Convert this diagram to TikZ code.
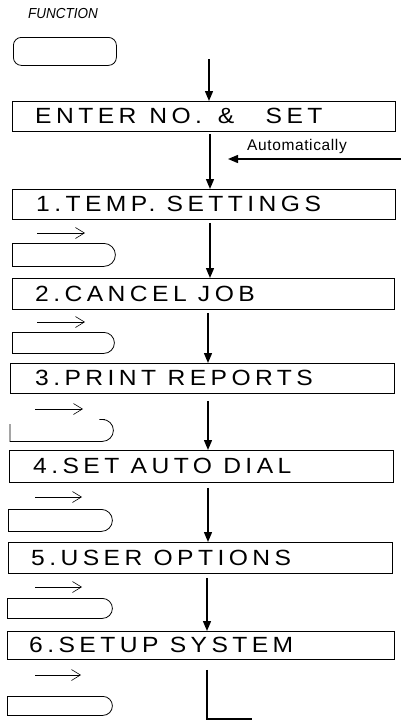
\documentclass[tikz,border=0pt]{standalone}
\usepackage{fontspec}
\setmainfont{Liberation Sans}
\newfontfamily\menufont[LetterSpace=18]{Liberation Sans}
\newfontfamily\autofont[LetterSpace=4]{Liberation Sans}
\newcommand{\menutxt}[1]{\scalebox{1.12}[1]{#1}}
\usetikzlibrary{arrows.meta,shapes.misc}
\begin{document}
\begin{tikzpicture}[x=1pt,y=-1pt,
  menubox/.style={draw, line width=0.8pt, rectangle, anchor=north west, inner sep=0pt},
  menutext/.style={anchor=west, inner sep=0pt, font=\menufont\fontsize{22}{22}\selectfont},
  flow/.style={line width=1.4pt, -{Triangle[length=10pt,width=8pt]}},
  pressarrow/.style={line width=0.6pt, -{Straight Barb[length=9pt,width=11pt]}},
  keybtn/.style={draw, line width=0.8pt, rounded rectangle, rounded rectangle west arc=none, rounded rectangle arc length=180, anchor=north west, inner sep=0pt}]
\useasboundingbox (0,0) rectangle (401,721);
% FUNCTION key
\node (fl) [anchor=west, inner sep=0pt, font=\itshape\fontsize{14.5}{14.5}\selectfont] at (28,14) {\scalebox{0.93}[1]{FUNCTION}};
\node (fk) [draw, line width=0.8pt, rounded corners=8pt, anchor=north west, minimum width=103pt, minimum height=28pt, inner sep=0pt] at (13,37) {};
% menu boxes
\node (b0) [menubox, minimum width=383pt, minimum height=30pt] at (12,101) {};
\node (b1) [menubox, minimum width=383pt, minimum height=30pt] at (12,189) {};
\node (b2) [menubox, minimum width=382pt, minimum height=31pt] at (12,278) {};
\node (b3) [menubox, minimum width=384pt, minimum height=30pt] at (10,363) {};
\node (b4) [menubox, minimum width=384pt, minimum height=32pt] at (9,450) {};
\node (b5) [menubox, minimum width=384pt, minimum height=31pt] at (8,542) {};
\node (b6) [menubox, minimum width=387pt, minimum height=28pt] at (7,631) {};
\node (t0) [menutext] at (35,116) {\menutxt{ENTER\hspace{1.5pt} NO.\hspace{4pt} \&\hspace{18pt} SET}};
\node (t1) [menutext] at (36,203.5) {\menutxt{1.TEMP. SETTINGS}};
\node (t2) [menutext] at (35,293.5) {\menutxt{2.CANCEL JOB}};
\node (t3) [menutext] at (35,378) {\menutxt{3.PRINT REPORTS}};
\node (t4) [menutext] at (33,466) {\menutxt{4.SET AUTO DIAL}};
\node (t5) [menutext] at (31,557.5) {\menutxt{5.USER OPTIONS}};
\node (t6) [menutext] at (29,645) {\menutxt{6.SETUP SYSTEM}};
% flow arrows
\coordinate (a0s) at (209,59);
\draw[flow] (a0s) -- (b0.north west -| a0s);
\draw[flow] (b0.south west -| 210,0) ++(0,2) -- (b1.north west -| 210,0);
\draw[flow] (b1.south west -| 210,0) ++(0,3) -- (b2.north west -| 210,0);
\draw[flow] (b2.south west -| 208,0) ++(0,3) -- (b3.north west -| 208,0);
\draw[flow] (b3.south west -| 208,0) ++(0,7) -- (b4.north west -| 208,0);
\draw[flow] (b4.south west -| 208,0) ++(0,5) -- (b5.north west -| 208,0);
\draw[flow] (b5.south west -| 207,0) ++(0,4) -- (b6.north west -| 207,0);
\coordinate (endc) at (252,719);
\draw[line width=1.4pt] (b6.south west -| 207,0) ++(0,10) |- (endc);
% automatically
\coordinate (autos) at (401,159);
\coordinate (autoe) at (228,159);
\draw[flow] (autos) -- (autoe);
\node (autol) [font=\autofont\fontsize{15.5}{15.5}\selectfont, inner sep=0pt] at (297,146) {Automatically};
% key buttons and press arrows
\node (k1) [keybtn, minimum width=103pt, minimum height=23pt] at (12,243) {};
\node (k2) [keybtn, minimum width=102pt, minimum height=21pt] at (12,332) {};
\node (k3) [anchor=north west, minimum width=103pt, minimum height=22pt, inner sep=0pt] at (10,419) {};
\draw[line width=0.8pt] ([xshift=-8pt]k3.north east) -- ([xshift=-11pt]k3.north east);
\draw[line width=0.8pt] (k3.north west) ++(0,5) -- (k3.south west) -- ([xshift=-11pt]k3.south east) arc[start angle=-90,end angle=90,radius=11pt] -- ++(-3pt,0);
\node (k4) [keybtn, minimum width=104pt, minimum height=22pt] at (8,509) {};
\node (k5) [keybtn, minimum width=105pt, minimum height=20pt] at (7,598) {};
\node (k6) [keybtn, minimum width=105pt, minimum height=19pt] at (7,696) {};
\coordinate (p1s) at (37,233); \coordinate (p1e) at (85,233);
\coordinate (p2s) at (37,322); \coordinate (p2e) at (85,322);
\coordinate (p3s) at (35,409); \coordinate (p3e) at (83,409);
\coordinate (p4s) at (35,497); \coordinate (p4e) at (82,497);
\coordinate (p5s) at (35,587); \coordinate (p5e) at (82,587);
\coordinate (p6s) at (35,675); \coordinate (p6e) at (81,675);
\foreach \i in {1,...,6} {\draw[pressarrow] (p\i s) -- (p\i e);}
\end{tikzpicture}
\end{document}
